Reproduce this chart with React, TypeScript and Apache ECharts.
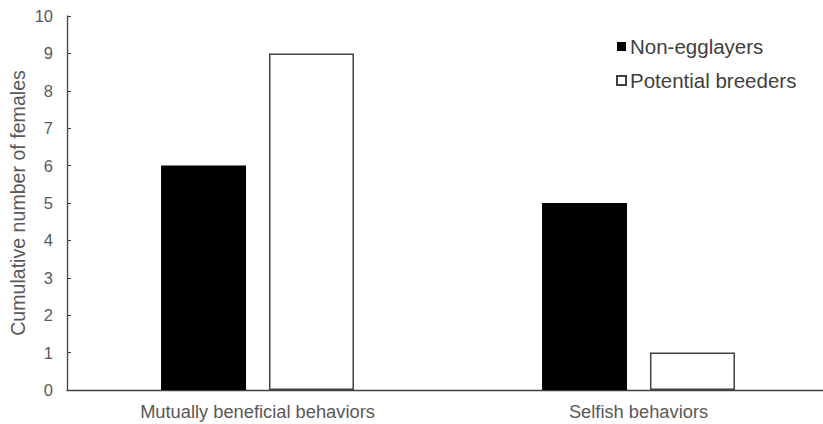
import React, { useEffect, useRef } from "react";
import * as echarts from "echarts";

const categories = ["Mutually beneficial behaviors", "Selfish behaviors"];
const nonEgglayers = [6, 5];
const potentialBreeders = [9, 1];
const seriesNames = ["Non-egglayers", "Potential breeders"];

export default function App() {
  const ref = useRef<HTMLDivElement>(null);
  useEffect(() => {
    if (!ref.current) return;
    const chart = echarts.init(ref.current, undefined, { renderer: "svg" });
    const font = "Liberation Sans, Arial, sans-serif";
    chart.setOption({
      animation: false,
      backgroundColor: "#ffffff",
      textStyle: { fontFamily: font },
      grid: { left: 67, right: 11, top: 16, bottom: 34, containLabel: false, outerBoundsMode: "none" },
      legend: {
        orient: "vertical",
        left: 611,
        top: 31,
        icon: "rect",
        itemWidth: 9,
        itemHeight: 9,
        itemGap: 13,
        textStyle: { fontSize: 20.5, color: "#404040", fontFamily: font, padding: [0, 0, 0, -1] },
        data: seriesNames,
      },
      xAxis: {
        type: "category",
        data: categories,
        axisLine: { lineStyle: { color: "#404040", width: 1.3 } },
        axisTick: { show: false },
        axisLabel: { fontSize: 18.3, color: "#595959", margin: 12, fontFamily: font },
      },
      yAxis: {
        type: "value",
        min: 0,
        max: 10,
        interval: 1,
        name: "Cumulative number of females",
        nameLocation: "middle",
        nameGap: 39,
        nameMoveOverlap: false,
        nameTextStyle: { fontSize: 19.6, color: "#595959", fontFamily: font },
        splitLine: { show: false },
        axisLine: { show: true, lineStyle: { color: "#404040", width: 1.3 } },
        axisTick: { show: true, inside: true, length: 4, lineStyle: { color: "#404040" } },
        axisLabel: { fontSize: 16.5, color: "#595959", margin: 14, fontFamily: font },
      },
      series: [
        {
          name: seriesNames[0],
          type: "bar",
          data: nonEgglayers,
          barWidth: 85,
          barGap: "27%",
          itemStyle: { color: "#000000", borderColor: "#000000", borderWidth: 0 },
        },
        {
          name: seriesNames[1],
          type: "bar",
          data: potentialBreeders,
          barWidth: 85,
          itemStyle: { color: "#ffffff", borderColor: "#404040", borderWidth: 1.5 },
        },
      ],
    });
    return () => chart.dispose();
  }, []);
  return (
    <div style={{ position: "fixed", left: 0, top: 0, width: 823, height: 424, overflow: "hidden", background: "#fff" }}>
      <div ref={ref} style={{ width: 840, height: 424 }} />
    </div>
  );
}
